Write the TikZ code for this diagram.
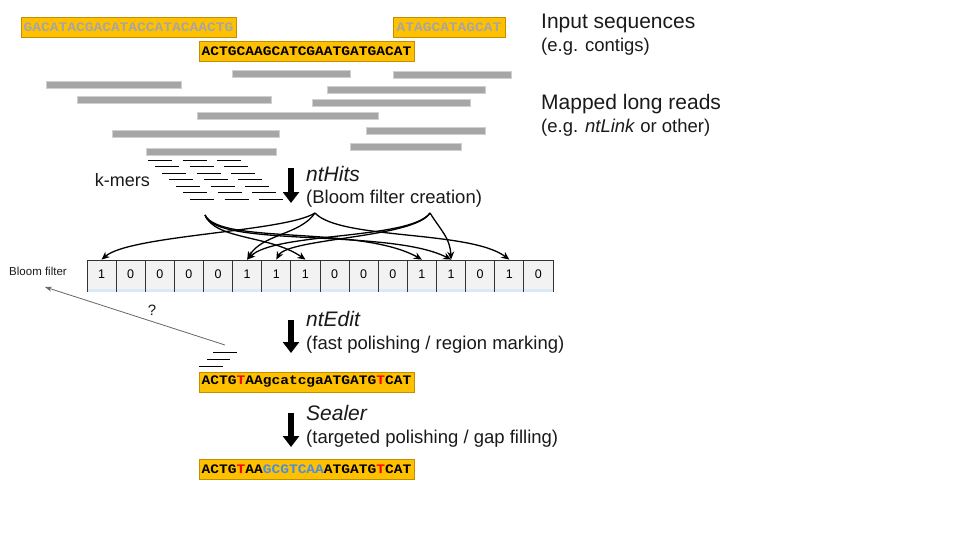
\documentclass[tikz,border=0pt]{standalone}
\usepackage{fontspec}
\setmainfont{Liberation Sans}
\newfontfamily\seqfont[FakeStretch=1.12]{Liberation Mono}
\usetikzlibrary{arrows.meta}
\definecolor{seqfill}{HTML}{FFC000}
\definecolor{seqdraw}{HTML}{BF9000}
\definecolor{seqgray}{HTML}{A6A6A6}
\definecolor{readgray}{HTML}{A6A6A6}
\definecolor{readedge}{HTML}{D0D0D0}
\definecolor{cellfill}{HTML}{F2F2F2}
\definecolor{celldraw}{HTML}{333333}
\definecolor{seqblue}{HTML}{4A8FE0}
\definecolor{seqred}{HTML}{FF0000}
\definecolor{stripblue}{HTML}{DCE8F4}
\definecolor{txt}{HTML}{1A1A1A}
\definecolor{qgray}{HTML}{666666}
\begin{document}
\begin{tikzpicture}[x=1pt,y=-1pt,
  seqbox/.style={draw=seqdraw, line width=0.8pt, fill=seqfill, inner sep=0pt, minimum height=20pt, font=\seqfont\bfseries\fontsize{13}{15}\selectfont},
  read/.style={fill=readgray, draw=readedge, line width=0.5pt},
  kmer/.style={draw=black, line width=0.8pt},
  title/.style={anchor=base west, text=txt, font=\fontsize{21}{25}\selectfont, inner sep=0pt},
  subtitle/.style={anchor=base west, text=txt, font=\fontsize{18.5}{22}\selectfont, inner sep=0pt},
  bigarrow/.style={line width=6.5pt, -{Triangle[length=11pt,width=16pt]}},
  cell/.style={draw=celldraw, fill=cellfill, line width=0.8pt, minimum width=29.125pt, minimum height=29pt, inner sep=0pt, font=\fontsize{12.5}{14}\selectfont},
  hash/.style={line width=1.3pt, -{Stealth[length=8pt,width=7pt]}},
  qarrow/.style={draw=qgray, line width=0.8pt, -{Stealth[length=7pt,width=5pt]}},
]
\useasboundingbox (0,0) rectangle (960,540);
\fill[white] (0,0) rectangle (960,540);

% input sequences
\node[seqbox, minimum width=215pt, text=seqgray] (s1) at (128.5,27) {GACATACGACATACCATACAACTG};
\node[seqbox, minimum width=112pt, text=seqgray] (s2) at (449,27) {ATAGCATAGCAT};
\node[seqbox, minimum width=215pt, text=black] (s3) at (306.5,51) {ACTGCAAGCATCGAATGATGACAT};

% mapped reads
\draw[read] (232,70) rectangle (350,77);
\draw[read] (393,71) rectangle (511,78);
\draw[read] (46,81) rectangle (181,88);
\draw[read] (327,86) rectangle (485,93);
\draw[read] (77,96) rectangle (271,103);
\draw[read] (312,99) rectangle (470,106);
\draw[read] (197,112) rectangle (378,119);
\draw[read] (366,127) rectangle (485,134);
\draw[read] (112,130) rectangle (279,137);
\draw[read] (350,143) rectangle (461,150);
\draw[read] (146,148) rectangle (276,155);

% k-mers
\foreach \r in {0,...,6}
  \foreach \k in {0,1,2}
    \draw[kmer] ({148+7*\r+34.5*\k},{160+6.5*\r}) -- ++(24,0);
\node[anchor=east, text=txt, font=\fontsize{18}{20}\selectfont, inner sep=0pt] (kl) at (150,180) {k-mers};

% right-hand titles
\node[title] (t1) at (541,29) {Input sequences};
\node[subtitle] (t1b) at (541,52) {(e.g. contigs)};
\node[title] (t2) at (541,110) {Mapped long reads};
\node[subtitle] (t2b) at (541,133) {(e.g. \textit{ntLink} or other)};

% ntHits
\coordinate (a1s) at (291,168);
\coordinate (a1e) at (291,203);
\draw[bigarrow] (a1s) -- (a1e);
\node[title] (t3) at (306,182) {\textit{ntHits}};
\node[subtitle] (t3b) at (306,203) {(Bloom filter creation)};

% Bloom filter
\foreach \v [count=\i from 0] in {1,0,0,0,0,1,1,1,0,0,0,1,1,0,1,0}
  \node[cell] (c\i) at ({87+29.125*(\i+0.5)},274.5) {\v};
\fill[stripblue] (87,289.4) rectangle (553,292);
\foreach \i in {0,...,16}
  \draw[celldraw, line width=0.8pt] ({87+29.125*\i},289) -- ({87+29.125*\i},292);
\node[text=txt, font=\fontsize{11.5}{13}\selectfont] (bfl) at (38,271) {Bloom filter};

% hash arrows
\coordinate (hA) at (205,215);
\coordinate (hB) at (315,213);
\coordinate (hC) at (430,213);
\draw[hash] (hA) .. controls (215,240) and (270,235) .. (c7.north);
\draw[hash] (hA) .. controls (220,245) and (360,225) .. (c11.north);
\draw[hash] (hA) .. controls (215,248) and (390,228) .. (c12.north);
\draw[hash] (hB) .. controls (285,232) and (130,235) .. (c0.north);
\draw[hash] (hB) .. controls (300,235) and (262,234) .. (c5.north);
\draw[hash] (hB) .. controls (340,240) and (470,230) .. (c14.north);
\draw[hash] (hC) .. controls (410,240) and (275,232) .. (c5.north);
\draw[hash] (hC) .. controls (415,238) and (288,238) .. (c6.north);
\draw[hash] (hC) .. controls (442,232) and (450,238) .. (c12.north);

% query k-mers
\draw[kmer] (213,352) -- ++(24,0);
\draw[kmer] (207,359) -- ++(23,0);
\draw[kmer] (199,366) -- ++(24,0);
\coordinate (q1) at (225,345);
\coordinate (q2) at (45,287);
\draw[qarrow] (q1) -- (q2);
\node[text=txt, font=\fontsize{15}{17}\selectfont] (qm) at (152,310) {?};

% ntEdit
\coordinate (a2s) at (291,320);
\coordinate (a2e) at (291,353);
\draw[bigarrow] (a2s) -- (a2e);
\node[title] (t4) at (306,326) {\textit{ntEdit}};
\node[subtitle] (t4b) at (306,349) {(fast polishing / region marking)};
\node[seqbox, minimum width=215pt, text=black] (s4) at (306.5,382) {ACTG\textcolor{seqred}{T}AAgcatcgaATGATG\textcolor{seqred}{T}CAT};

% Sealer
\coordinate (a3s) at (291,413);
\coordinate (a3e) at (291,447);
\draw[bigarrow] (a3s) -- (a3e);
\node[title] (t5) at (306,420) {\textit{Sealer}};
\node[subtitle] (t5b) at (306,443) {(targeted polishing / gap filling)};
\node[seqbox, minimum width=215pt, text=black] (s5) at (306.5,469.5) {ACTG\textcolor{seqred}{T}AA\textcolor{seqblue}{GCGTCAA}ATGATG\textcolor{seqred}{T}CAT};
\end{tikzpicture}
\end{document}
